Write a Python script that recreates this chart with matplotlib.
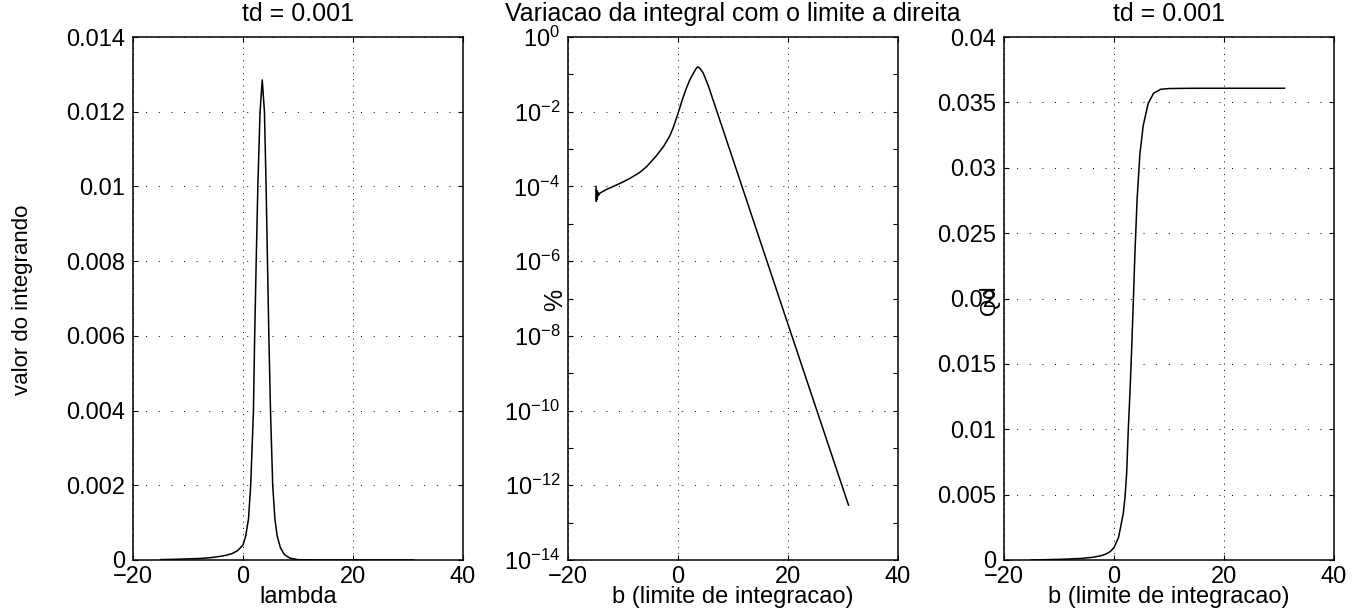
import matplotlib; matplotlib.use("Agg")
import numpy as np
import matplotlib.pyplot as plt
from matplotlib.ticker import FixedLocator, NullFormatter

plt.rcParams['font.family'] = ['Liberation Sans', 'DejaVu Sans']
plt.rcParams['mathtext.fontset'] = 'custom'
plt.rcParams['mathtext.rm'] = 'Liberation Sans'
plt.rcParams['mathtext.it'] = 'Liberation Sans'
plt.rcParams['mathtext.default'] = 'regular'
plt.rcParams['axes.unicode_minus'] = True

# integrando em funcao de lambda
lam = [-15, -12, -10, -8, -6, -4, -3, -2, -1, 0, 0.5, 1.0, 1.4, 1.9, 2.1, 2.4,
       2.7, 3.1, 3.5, 3.9, 4.2, 4.45, 4.7, 5.0, 5.4, 5.8, 6.2, 6.8, 7.5, 8.5,
       10, 12, 15, 20, 25, 31]
integrando = [0.00001, 0.00002, 0.00003, 0.00004, 0.00006, 0.0001, 0.00013,
              0.00017, 0.00025, 0.0004, 0.00065, 0.0011, 0.002, 0.004, 0.0058,
              0.008, 0.01, 0.012, 0.01285, 0.012, 0.01, 0.008, 0.006, 0.004,
              0.002, 0.0011, 0.00065, 0.00033, 0.00015, 0.00005, 0.00001,
              0.000002, 0, 0, 0, 0]

# variacao percentual (escala log)
b_pct = [-14.9, -14.85, -14.8, -14.7, -14.6, -14.5, -14.2, -13, -11.75, -10,
         -8.7, -7, -5.7, -4, -2.67, -1.5, -0.85, 0.06, 0.8, 1.58, 2.2, 2.8,
         3.3, 3.6, 4.0, 4.6, 5.5, 10, 20, 31]
log_pct = [-4.0, -4.4, -4.1, -4.35, -4.15, -4.25, -4.18, -4.08, -4.0, -3.88,
           -3.78, -3.63, -3.47, -3.19, -2.94, -2.65, -2.42, -2.02, -1.67, -1.35,
           -1.13, -0.97, -0.84, -0.8, -0.84, -0.97, -1.3, -3.28, -7.69, -12.53]

# Qd em funcao do limite superior b
b_qd = [-15, -12, -9, -6, -4, -2.5, -1.5, -0.7, 0, 0.8, 1.1, 1.7, 2.0, 2.3,
        2.6, 2.9, 3.2, 3.5, 3.8, 4.2, 4.7, 5.3, 6.2, 7.2, 8.5, 10, 15, 31]
qd = [0, 0.00003, 0.00006, 0.00012, 0.0002, 0.00031, 0.00045, 0.00064,
      0.00095, 0.0017, 0.0023, 0.0036, 0.0048, 0.0066, 0.01, 0.0128, 0.016,
      0.0196, 0.0234, 0.0276, 0.031, 0.0332, 0.0349, 0.0357, 0.036, 0.03606,
      0.03608, 0.03608]

xticks = [-20, 0, 20, 40]
FS = 17

fig = plt.figure(figsize=(13.69, 6.11), dpi=100)
lefts = [133, 568, 1004]
axs = [fig.add_axes([l / 1369, 51 / 611, 330 / 1369, 523 / 611]) for l in lefts]


def estilo(ax, xlabel, ylabel, ylx, ylfs, title):
    ax.set_xlim(-20, 40)
    ax.set_xticks(xticks)
    ax.tick_params(which='both', direction='in', top=True, right=True,
                   length=3.5, width=0.8, labelsize=FS)
    ax.tick_params(axis='y', pad=5.5)
    ax.tick_params(axis='x', pad=4)
    # linhas verticais com pontos mais juntos que as horizontais
    ax.xaxis.grid(True, which='major', linestyle=(0, (1, 5.5)), color='black',
                  linewidth=0.7)
    ax.yaxis.grid(True, which='major', linestyle=(0, (1, 12)), color='black',
                  linewidth=0.7)
    for s in ax.spines.values():
        s.set_linewidth(1.1)
    ax.set_xlabel(xlabel, fontsize=FS, va='center')
    ax.xaxis.set_label_coords(0.5, -0.0707)
    ax.set_ylabel(ylabel, fontsize=ylfs, va='center')
    ax.yaxis.set_label_coords(ylx, 0.497)
    ax.set_title(title, fontsize=18, y=1.044, va='center', pad=0)


ax1, ax2, ax3 = axs

ax1.plot(lam, integrando, color='black', lw=1.1)
ax1.set_ylim(0, 0.014)
ax1.set_yticks(np.arange(0, 0.0141, 0.002))
ax1.set_yticklabels(['0', '0.002', '0.004', '0.006', '0.008', '0.01',
                     '0.012', '0.014'])
estilo(ax1, 'lambda', 'valor do integrando', -0.335, 16, 'td = 0.001')

ax2.semilogy(b_pct, [10 ** v for v in log_pct], color='black', lw=1.1)
ax2.set_ylim(1e-14, 1)
ax2.yaxis.set_major_locator(FixedLocator([10.0 ** k for k in range(-14, 1, 2)]))
ax2.yaxis.set_minor_locator(FixedLocator([10.0 ** k for k in range(-13, 0, 2)]))
ax2.yaxis.set_minor_formatter(NullFormatter())
ax2.set_yticklabels(['$10^{%d}$' % k for k in range(-14, 1, 2)])
estilo(ax2, 'b (limite de integracao)', '%', -0.039, 18,
       'Variacao da integral com o limite a direita')

ax3.plot(b_qd, qd, color='black', lw=1.1)
ax3.set_ylim(0, 0.04)
ax3.set_yticks(np.arange(0, 0.0401, 0.005))
ax3.set_yticklabels(['0', '0.005', '0.01', '0.015', '0.02', '0.025', '0.03',
                     '0.035', '0.04'])
estilo(ax3, 'b (limite de integracao)', 'Qd', -0.045, 16, 'td = 0.001')

fig.savefig('out.png', dpi=100)
